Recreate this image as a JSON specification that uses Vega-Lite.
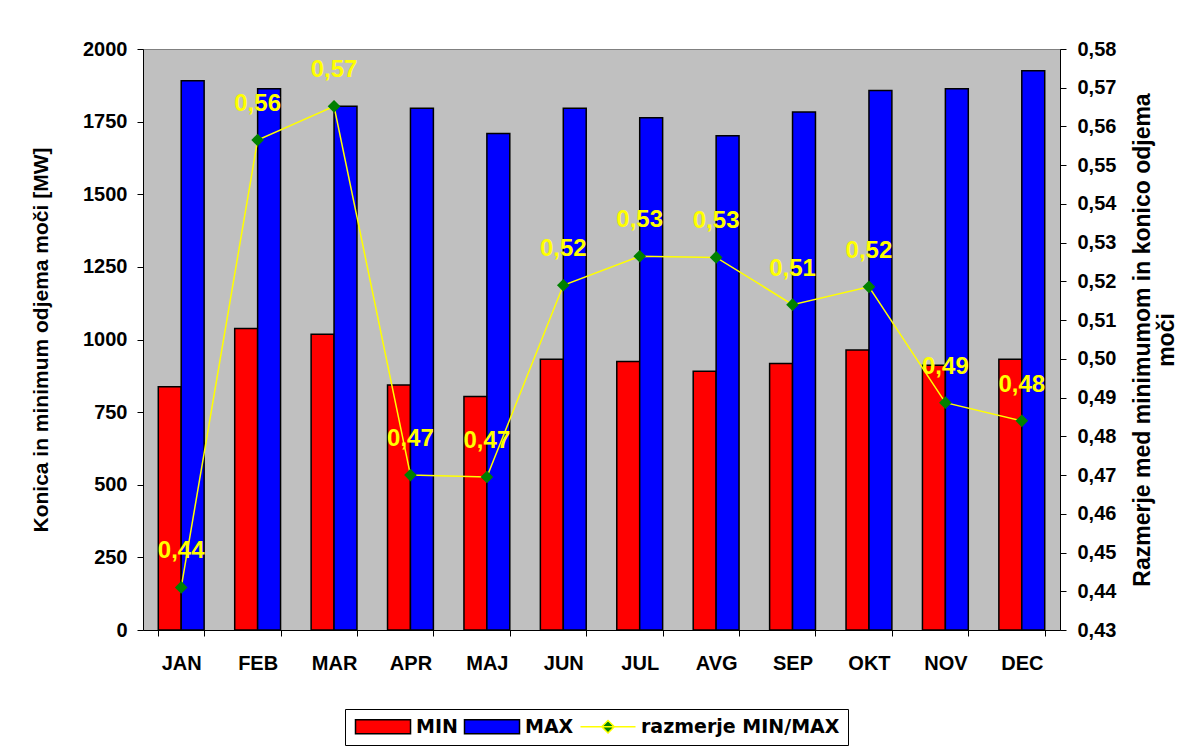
{
  "$schema": "https://vega.github.io/schema/vega-lite/v6.json",
  "width": 917,
  "height": 581,
  "autosize": {"type": "none"},
  "padding": {"left": 143, "top": 49, "right": 130, "bottom": 123},
  "background": "white",
  "config": {
    "font": "Liberation Sans",
    "locale": {"number": {"decimal": ",", "thousands": ".", "grouping": [3], "currency": ["", " €"]}},
    "view": {"fill": "#C0C0C0", "stroke": "#808080", "strokeWidth": 1},
    "axis": {
      "labelFont": "Liberation Sans", "labelFontWeight": "bold", "labelFontSize": 20, "labelColor": "black",
      "titleFont": "Liberation Sans", "titleFontWeight": "bold", "titleFontSize": 21, "titleColor": "black",
      "domainColor": "black", "tickColor": "black", "tickSize": 6, "grid": false
    },
    "legend": {"labelFont": "DejaVu Sans", "labelFontWeight": "bold", "labelFontSize": 19, "labelColor": "black", "labelLimit": 400}
  },
  "data": {
    "values": [
      {"month": "JAN", "MIN": 837, "MAX": 1891, "ratio": 0.441},
      {"month": "FEB", "MIN": 1038, "MAX": 1863, "ratio": 0.5565},
      {"month": "MAR", "MIN": 1018, "MAX": 1803, "ratio": 0.5652},
      {"month": "APR", "MIN": 843, "MAX": 1796, "ratio": 0.47},
      {"month": "MAJ", "MIN": 804, "MAX": 1709, "ratio": 0.4695},
      {"month": "JUN", "MIN": 932, "MAX": 1796, "ratio": 0.519},
      {"month": "JUL", "MIN": 924, "MAX": 1763, "ratio": 0.5265},
      {"month": "AVG", "MIN": 891, "MAX": 1701, "ratio": 0.5262},
      {"month": "SEP", "MIN": 917, "MAX": 1783, "ratio": 0.514},
      {"month": "OKT", "MIN": 964, "MAX": 1857, "ratio": 0.5186},
      {"month": "NOV", "MIN": 911, "MAX": 1863, "ratio": 0.4887},
      {"month": "DEC", "MIN": 932, "MAX": 1925, "ratio": 0.484}
    ]
  },
  "encoding": {
    "x": {
      "field": "month", "type": "nominal", "sort": null,
      "scale": {"paddingInner": 0.4, "paddingOuter": 0.2},
      "axis": {"title": null, "labelAngle": 0, "tickBand": "extent", "labelPadding": 17}
    }
  },
  "layer": [
    {
      "transform": [{"fold": ["MIN", "MAX"], "as": ["key", "value"]}],
      "mark": {"type": "bar", "stroke": "black", "strokeWidth": 1.5},
      "encoding": {
        "xOffset": {"field": "key", "type": "nominal", "scale": {"domain": ["MIN", "MAX"], "paddingInner": 0}},
        "y": {
          "field": "value", "type": "quantitative",
          "scale": {"domain": [0, 2000]},
          "axis": {
            "title": "Konica in minimum odjema moči [MW]",
            "values": [0, 250, 500, 750, 1000, 1250, 1500, 1750, 2000],
            "format": "d", "labelPadding": 10, "titlePadding": 31
          }
        },
        "color": {
          "field": "key", "type": "nominal",
          "scale": {"domain": ["MIN", "MAX", "razmerje MIN/MAX"], "range": ["#FF0000", "#0000FF", "#008000"]},
          "legend": {
            "title": null, "orient": "none", "direction": "horizontal",
            "legendX": 202, "legendY": 660,
            "fillColor": "white", "strokeColor": "black", "padding": 8,
            "symbolSize": 196, "symbolType": "M-1,-1H6.86V1H-1Z",
            "symbolStrokeWidth": 1.5, "labelOffset": 44, "columnPadding": 3,
            "encoding": {
              "symbols": {
                "shape": {"value": {"expr": "datum.value === 'razmerje MIN/MAX' ? 'M-1,0H6.86M2.93,-0.9L3.83,0L2.93,0.9L2.03,0Z' : 'M-1,-1H6.86V1H-1Z'"}},
                "stroke": {"value": {"expr": "datum.value === 'razmerje MIN/MAX' ? '#FFFF00' : 'black'"}},
                "strokeWidth": {"value": 1.5}
              }
            }
          }
        }
      }
    },
    {
      "encoding": {
        "y": {
          "field": "ratio", "type": "quantitative",
          "scale": {"domain": [0.43, 0.58]},
          "axis": {
            "orient": "right",
            "title": ["Razmerje med minimumom in konico odjema", "moči"],
            "titleAngle": 270, "titleFontSize": 23, "titleLineHeight": 24,
            "values": [0.43, 0.44, 0.45, 0.46, 0.47, 0.48, 0.49, 0.5, 0.51, 0.52, 0.53, 0.54, 0.55, 0.56, 0.57, 0.58],
            "format": ".2f", "labelPadding": 11, "titlePadding": 15
          }
        }
      },
      "layer": [
        {"mark": {"type": "line", "color": "#FFFF00", "strokeWidth": 1.5}},
        {"mark": {"type": "point", "shape": "diamond", "filled": true, "color": "#008000", "size": 160, "opacity": 1}},
        {
          "mark": {"type": "text", "color": "#FFFF00", "fontWeight": "bold", "fontSize": 24, "baseline": "alphabetic", "dy": -29},
          "encoding": {"text": {"field": "ratio", "type": "quantitative", "format": ".2f"}}
        }
      ]
    }
  ],
  "resolve": {"scale": {"y": "independent"}}
}
